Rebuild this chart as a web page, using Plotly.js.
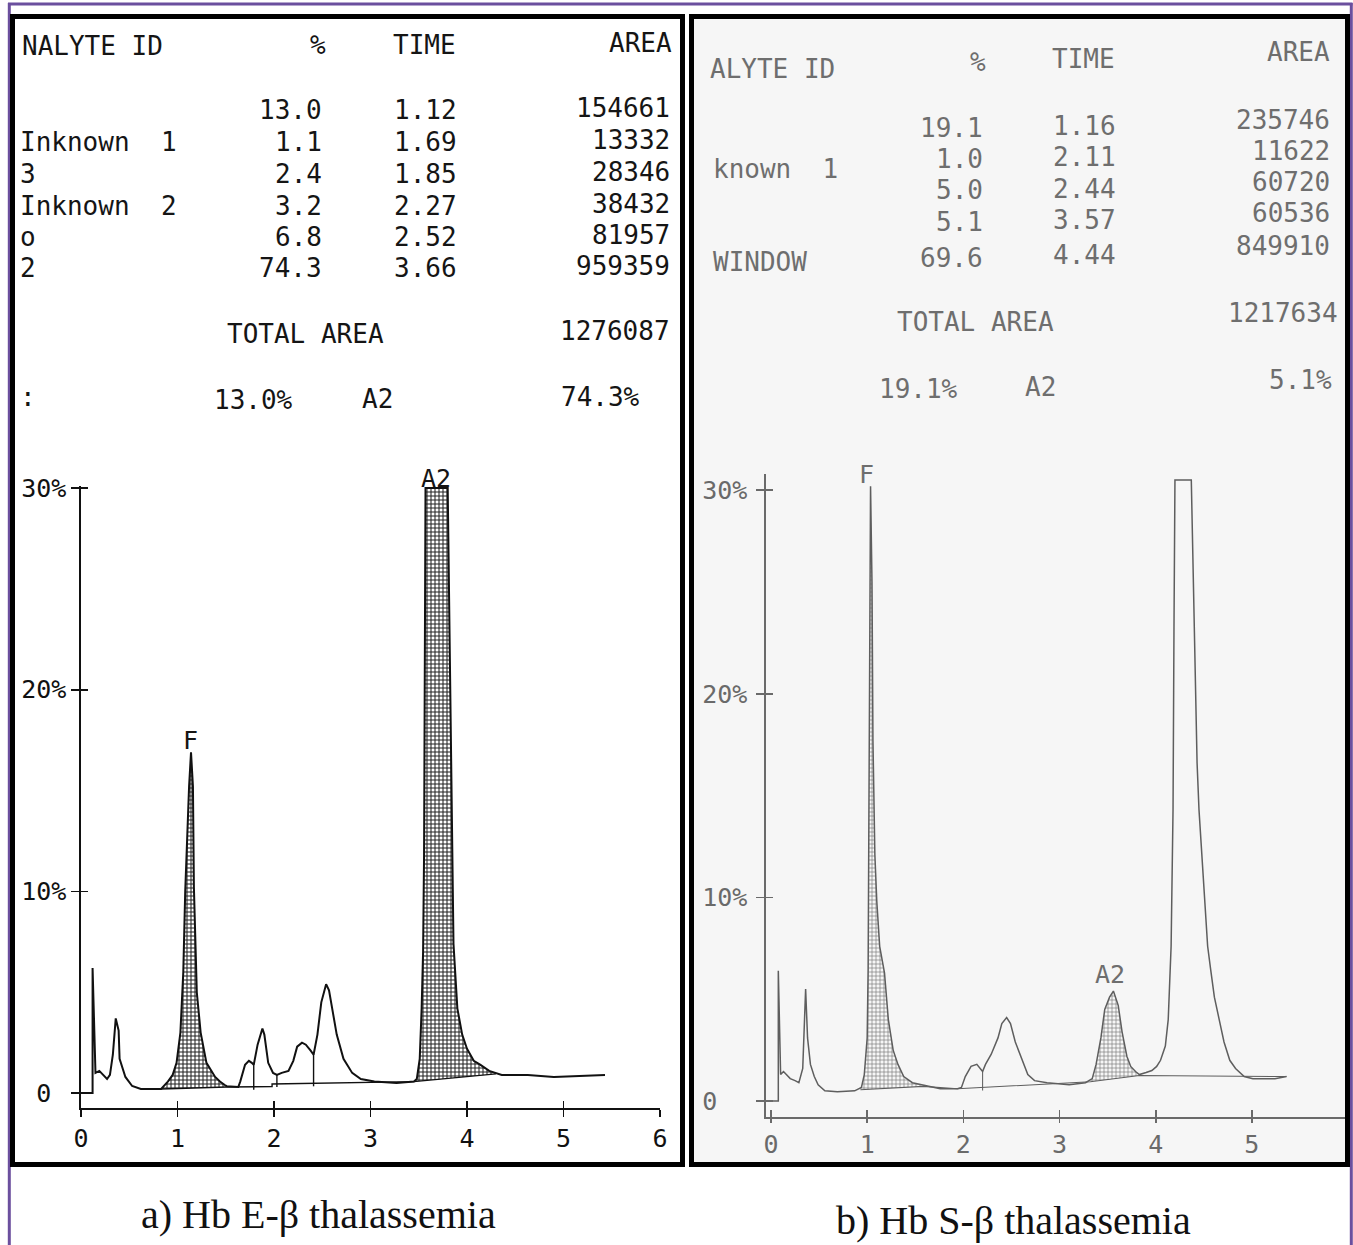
<!DOCTYPE html>
<html><head><meta charset="utf-8">
<script src="https://cdn.plot.ly/plotly-3.0.1.min.js"></script>
<style>html,body{margin:0;padding:0;background:#fff;}#chart{width:1353px;height:1245px;}</style>
</head><body><div id="chart"></div>
<script>
// ---------------- DATA ----------------
// Panel a) Hb E-beta thalassemia : chromatogram (retention time in min, signal in %)
const leftTime = [
  0.00,0.12,0.12,0.14,0.15,0.19,0.23,0.27,0.30,0.33,
  0.36,0.39,0.40,0.46,0.53,0.62,0.83,0.90,0.95,0.99,
  1.03,1.06,1.08,1.10,1.12,1.14,1.16,1.17,1.20,1.24,
  1.30,1.39,1.44,1.49,1.51,1.63,1.65,1.70,1.74,1.77,
  1.79,1.83,1.88,1.90,1.94,1.99,2.03,2.08,2.15,2.20,
  2.24,2.29,2.33,2.38,2.41,2.45,2.49,2.54,2.57,2.61,
  2.65,2.72,2.81,2.90,3.04,3.27,3.45,3.48,3.51,3.53,
  3.545,3.555,3.56,3.565,3.57,3.80,3.815,3.83,3.845,3.86,
  3.90,3.95,4.00,4.07,4.14,4.23,4.36,4.63,4.90,5.18,
  5.43];
const leftSignal = [
  0.0,0.0,6.2,3.0,1.0,1.1,0.9,0.7,0.9,1.9,
  3.7,3.1,1.7,0.8,0.35,0.2,0.2,0.57,0.9,1.5,
  3.0,6.0,10.0,12.9,15.2,16.9,15.2,10.2,5.0,3.0,
  1.5,0.8,0.57,0.4,0.34,0.3,0.57,1.4,1.6,1.5,
  1.4,2.4,3.2,2.9,1.5,1.0,0.9,1.0,1.1,1.6,
  2.3,2.5,2.4,2.1,1.9,2.9,4.5,5.4,5.1,4.0,
  2.9,1.7,1.0,0.7,0.57,0.5,0.57,0.7,1.7,4.2,
  7.0,11.8,17.7,22.1,30.0,30.0,23.5,18.9,12.0,7.4,
  4.2,2.9,2.2,1.6,1.4,1.1,0.9,0.9,0.8,0.85,
  0.9];
const leftBaseTime   = [0.83,1.51,1.98,1.98,3.45,4.30];
const leftBaseSignal = [0.20,0.30,0.32,0.45,0.57,0.95];
const leftDropTimes  = [1.79,2.03,2.41];
const leftShaded     = [[0.83,1.51],[3.45,4.30]];
const leftPeakNames  = ['F','A2'];
const leftPeakTime   = [1.13,3.68];
const leftPeakLevel  = [17.5,30.0];

// Panel b) Hb S-beta thalassemia
const rightTime = [
  0.00,0.076,0.076,0.10,0.13,0.20,0.25,0.29,0.33,0.345,
  0.36,0.38,0.41,0.45,0.49,0.56,0.69,0.87,0.94,0.97,
  1.00,1.01,1.02,1.025,1.035,1.05,1.06,1.08,1.10,1.13,
  1.18,1.22,1.25,1.27,1.32,1.38,1.47,1.58,1.76,1.94,
  1.98,2.02,2.08,2.14,2.20,2.23,2.29,2.36,2.40,2.45,
  2.49,2.54,2.61,2.67,2.74,2.87,3.10,3.27,3.34,3.38,
  3.43,3.47,3.52,3.56,3.61,3.65,3.70,3.74,3.79,3.83,
  3.90,3.96,4.01,4.05,4.10,4.13,4.16,4.18,4.19,4.20,
  4.37,4.39,4.41,4.43,4.45,4.48,4.51,4.54,4.57,4.61,
  4.66,4.71,4.77,4.83,4.92,5.01,5.10,5.24,5.36];
const rightSignal = [
  0.0,0.0,6.4,1.3,1.45,1.1,1.0,0.9,1.6,4.0,
  5.5,3.1,1.8,1.2,0.8,0.5,0.45,0.5,0.67,1.3,
  3.1,6.5,14.3,23.3,30.2,25.5,17.7,12.1,9.8,7.6,
  6.3,4.0,3.1,2.5,1.8,1.2,0.9,0.8,0.6,0.6,
  0.67,1.2,1.7,1.8,1.45,1.8,2.3,3.1,3.8,4.1,
  3.8,2.9,2.0,1.3,1.0,0.9,0.8,0.9,1.1,1.8,
  3.1,4.5,5.1,5.4,4.7,3.4,2.2,1.7,1.45,1.3,
  1.4,1.5,1.7,2.0,2.7,4.0,7.6,14.3,23.3,30.5,
  30.5,25.5,19.9,16.6,14.3,12.1,9.8,7.6,6.5,5.1,
  4.0,2.9,2.0,1.6,1.2,1.1,1.1,1.1,1.2];
const rightBaseTime   = [0.93,1.58,1.94,3.32,3.83,5.36];
const rightBaseSignal = [0.55,0.72,0.60,0.95,1.25,1.20];
const rightDropTimes  = [2.20];
const rightShaded     = [[0.93,1.58],[3.32,3.83]];
const rightPeakNames  = ['F','A2'];
const rightPeakTime   = [0.99,3.52];
const rightPeakLevel  = [30.5,6.2];

// Axis ticks
const xTickVals = [0,1,2,3,4,5,6];
const xTickText = ['0','1','2','3','4','5','6'];
const yTickVals = [0,10,20,30];
const yTickTextA = ['0\u00a0','10%','20%','30%'];
const yTickTextB = ['0\u00a0\u00a0','10%','20%','30%'];

// Report tables
const headers = ['%','TIME','AREA'];
const leftIds   = ['','Inknown\u00a0\u00a01','3','Inknown\u00a0\u00a02','o','2'];
const leftPct   = ['13.0','1.1','2.4','3.2','6.8','74.3'];
const leftRT    = ['1.12','1.69','1.85','2.27','2.52','3.66'];
const leftArea  = ['154661','13332','28346','38432','81957','959359'];
const leftTotal = '1276087';
const leftSummary = [':','13.0%','A2','74.3%'];
const rightIds   = ['','known\u00a0\u00a01','','','WINDOW'];
const rightPct   = ['19.1','1.0','5.0','5.1','69.6'];
const rightRT    = ['1.16','2.11','2.44','3.57','4.44'];
const rightArea  = ['235746','11622','60720','60536','849910'];
const rightTotal = '1217634';
const rightSummary = ['19.1%','A2','5.1%'];
const captions = ['a) Hb E-\u03b2 thalassemia','b) Hb S-\u03b2 thalassemia'];

// ---------------- HELPERS ----------------
const W = 1353, H = 1245;
const MONO = '"DejaVu Sans Mono","Liberation Mono",monospace';
const SERIF = '"Liberation Serif","Times New Roman",serif';
const PX = v => v / W, PY = v => 1 - v / H;

function interp(xs, ys, x) {
  for (let i = 0; i < xs.length - 1; i++) {
    if (x >= xs[i] && x <= xs[i + 1]) {
      const d = xs[i + 1] - xs[i];
      return d === 0 ? ys[i + 1] : ys[i] + (ys[i + 1] - ys[i]) * (x - xs[i]) / d;
    }
  }
  return ys[ys.length - 1];
}
function shadedPoly(xs, ys, bx, by, x0, x1) {
  const X = [x0], Y = [interp(xs, ys, x0)];
  for (let i = 0; i < xs.length; i++) if (xs[i] > x0 && xs[i] < x1) { X.push(xs[i]); Y.push(ys[i]); }
  X.push(x1, x1, x0); Y.push(interp(xs, ys, x1), interp(bx, by, x1), interp(bx, by, x0));
  return {X, Y};
}
function dropLines(xs, ys, bx, by, drops) {
  const X = [], Y = [];
  drops.forEach(d => { X.push(d, d, null); Y.push(interp(xs, ys, d), interp(bx, by, d) - 0.15, null); });
  return {X, Y};
}

function panelTraces(xs, ys, bx, by, drops, shaded, xa, ya, lineCol, lw, pat) {
  const tr = [];
  shaded.forEach(r => {
    const p = shadedPoly(xs, ys, bx, by, r[0], r[1]);
    tr.push({type:'scatter', mode:'lines', x:p.X, y:p.Y, xaxis:xa, yaxis:ya, fill:'toself',
      fillcolor: pat.bgcolor, fillpattern: pat, line:{width:0}, hoverinfo:'skip'});
  });
  tr.push({type:'scatter', mode:'lines', x:bx, y:by, xaxis:xa, yaxis:ya, line:{color:lineCol, width:lw*0.7}, hoverinfo:'skip'});
  const d = dropLines(xs, ys, bx, by, drops);
  tr.push({type:'scatter', mode:'lines', x:d.X, y:d.Y, xaxis:xa, yaxis:ya, line:{color:lineCol, width:lw*0.7}, hoverinfo:'skip'});
  tr.push({type:'scatter', mode:'lines', x:xs, y:ys, xaxis:xa, yaxis:ya, line:{color:lineCol, width:lw}, hoverinfo:'skip'});
  return tr;
}

const traces = [].concat(
  panelTraces(leftTime, leftSignal, leftBaseTime, leftBaseSignal, leftDropTimes, leftShaded, 'x', 'y', '#111', 2,
    {shape:'+', size:4, solidity:0.45, fgcolor:'#222', bgcolor:'#ffffff', fillmode:'replace'}),
  panelTraces(rightTime, rightSignal, rightBaseTime, rightBaseSignal, rightDropTimes, rightShaded, 'x2', 'y2', '#5e5e5e', 1.5,
    {shape:'+', size:4, solidity:0.3, fgcolor:'#777', bgcolor:'#f6f6f6', fillmode:'replace'}),
  [ {type:'scatter', x:[], y:[], xaxis:'x3', yaxis:'y'},
    {type:'scatter', x:[], y:[], xaxis:'x', yaxis:'y3'},
    {type:'scatter', x:[], y:[], xaxis:'x4', yaxis:'y2'},
    {type:'scatter', x:[], y:[], xaxis:'x2', yaxis:'y4'} ]
);

function mainAxis(domain, range, col, vals, text, extra) {
  return Object.assign({domain, range, showline:true, linecolor:col, linewidth:1.6, ticks:'outside', ticklen:8,
    tickwidth:1.6, tickcolor:col, tickvals:vals, ticktext:text, tickfont:{family:MONO, size:25, color:col},
    showgrid:false, zeroline:false, fixedrange:true}, extra || {});
}
function innerAxis(over, anchor, range, col, vals, extra) {
  return Object.assign({overlaying:over, anchor, range, showline:false, ticks:'inside', ticklen:7, tickwidth:1.6,
    tickcolor:col, tickvals:vals, showticklabels:false, showgrid:false, zeroline:false, fixedrange:true}, extra || {});
}

const xRangeA = [0, 6], yRangeA = [-0.74, 30.1];
const xRangeB = [-0.052, 6.02], yRangeB = [-0.785, 30.8];

const layout = {
  width: W, height: H, margin:{l:0,r:0,t:0,b:0,pad:0}, showlegend:false,
  paper_bgcolor:'#ffffff', plot_bgcolor:'rgba(0,0,0,0)', font:{family:MONO},
  xaxis: mainAxis([PX(81), PX(660)], xRangeA, '#111', xTickVals, xTickText, {anchor:'y', ticklen:7}),
  yaxis: mainAxis([PY(1108), PY(486)], yRangeA, '#111', yTickVals, yTickTextA, {anchor:'x'}),
  xaxis2: mainAxis([PX(766), PX(1350)], xRangeB, '#6a6a6a', xTickVals, xTickText, {anchor:'y2', ticklen:4}),
  yaxis2: mainAxis([PY(1117), PY(474)], yRangeB, '#6a6a6a', yTickVals, yTickTextB, {anchor:'x2', ticklabelstandoff:4}),
  xaxis3: innerAxis('x', 'y', xRangeA, '#111', xTickVals),
  yaxis3: innerAxis('y', 'x', yRangeA, '#111', yTickVals, {side:'left'}),
  xaxis4: innerAxis('x2', 'y2', xRangeB, '#6a6a6a', xTickVals),
  yaxis4: innerAxis('y2', 'x2', yRangeB, '#6a6a6a', yTickVals, {side:'left'}),
  shapes: [
    {type:'rect', xref:'paper', yref:'paper', x0:PX(694), x1:PX(1345), y0:PY(19), y1:PY(1162), fillcolor:'#f6f6f6', line:{width:0}, layer:'below'},
    {type:'line', xref:'paper', yref:'paper', x0:PX(8), x1:PX(1352.5), y0:PY(4), y1:PY(4), line:{color:'#6b4f9e', width:3}, layer:'above'},
    {type:'line', xref:'paper', yref:'paper', x0:PX(9.3), x1:PX(9.3), y0:PY(3), y1:PY(1245), line:{color:'#6b4f9e', width:3}, layer:'above'},
    {type:'line', xref:'paper', yref:'paper', x0:PX(1351.3), x1:PX(1351.3), y0:PY(3), y1:PY(1245), line:{color:'#6b4f9e', width:3}, layer:'above'},
    {type:'rect', xref:'paper', yref:'paper', x0:PX(12.5), x1:PX(682.5), y0:PY(16.5), y1:PY(1164.5), line:{color:'#000', width:5}, fillcolor:'rgba(0,0,0,0)', layer:'above'},
    {type:'rect', xref:'paper', yref:'paper', x0:PX(691.5), x1:PX(1347.5), y0:PY(16.5), y1:PY(1164.5), line:{color:'#000', width:5}, fillcolor:'rgba(0,0,0,0)', layer:'above'}
  ],
  annotations: []
};

function T(text, x, y, anchor, color) {
  layout.annotations.push({text, x:PX(x), y:PY(y), xref:'paper', yref:'paper', xanchor:anchor, yanchor:'middle',
    showarrow:false, borderpad:0, font:{family:MONO, size:26, color}});
}
// Left table
const cA = '#151515';
T('NALYTE ID', 21, 46, 'left', cA);
T(headers[0], 318, 45, 'center', cA); T(headers[1], 425, 45, 'center', cA); T(headers[2], 673, 43, 'right', cA);
const rowsA = [110,142,174,206,237,268];
leftPct.forEach((v, i) => {
  if (leftIds[i]) T(leftIds[i], 19, rowsA[i], 'left', cA);
  T(v, 323, rowsA[i], 'right', cA);
  T(leftRT[i], 458, rowsA[i], 'right', cA);
  T(leftArea[i], 671, rowsA[i] - 2, 'right', cA);
});
T('TOTAL AREA', 305, 334, 'center', cA); T(leftTotal, 671, 331, 'right', cA);
T(leftSummary[0], 19, 397, 'left', cA); T(leftSummary[1], 253, 400, 'center', cA);
T(leftSummary[2], 377, 399, 'center', cA); T(leftSummary[3], 600, 397, 'center', cA);
// Right table (slightly tilted printout)
const cB = '#6e6e6e';
T('ALYTE ID', 709, 69, 'left', cB);
T(headers[0], 978, 62, 'center', cB); T(headers[1], 1083, 59, 'center', cB); T(headers[2], 1331, 52, 'right', cB);
const rowsPct = [128,159,190,222,258], rowsRT = [126,157,189,220,255], rowsArea = [120,151,182,213,246], rowsId = [134,169,199,230,262];
rightPct.forEach((v, i) => {
  if (rightIds[i]) T(rightIds[i], 712, rowsId[i], 'left', cB);
  T(v, 984, rowsPct[i], 'right', cB);
  T(rightRT[i], 1117, rowsRT[i], 'right', cB);
  T(rightArea[i], 1331, rowsArea[i], 'right', cB);
});
T('TOTAL AREA', 975, 322, 'center', cB); T(rightTotal, 1339, 313, 'right', cB);
T(rightSummary[0], 918, 389, 'center', cB); T(rightSummary[1], 1040, 387, 'center', cB); T(rightSummary[2], 1300, 380, 'center', cB);

// Peak labels
leftPeakNames.forEach((n, i) => layout.annotations.push({text:n, x:leftPeakTime[i], y:leftPeakLevel[i], xref:'x', yref:'y',
  showarrow:false, yanchor:'middle', yshift:(leftPeakLevel[i] >= 30 ? 10 : 0), font:{family:MONO, size:25, color:'#151515'}}));
rightPeakNames.forEach((n, i) => layout.annotations.push({text:n, x:rightPeakTime[i], y:rightPeakLevel[i], xref:'x2', yref:'y2',
  showarrow:false, yanchor:'middle', yshift:(rightPeakLevel[i] >= 30 ? 6 : 0), font:{family:MONO, size:25, color:'#6e6e6e'}}));

// Captions
layout.annotations.push({text:captions[0], x:PX(318), y:PY(1214), xref:'paper', yref:'paper', showarrow:false,
  xanchor:'center', yanchor:'middle', font:{family:SERIF, size:40, color:'#111'}});
layout.annotations.push({text:captions[1], x:PX(1014), y:PY(1220), xref:'paper', yref:'paper', showarrow:false,
  xanchor:'center', yanchor:'middle', font:{family:SERIF, size:40, color:'#111'}});

traces.forEach(t => { t.showlegend = false; t.hoverinfo = 'skip'; });
Plotly.newPlot('chart', traces, layout, {staticPlot:true, displayModeBar:false});
</script></body></html>
